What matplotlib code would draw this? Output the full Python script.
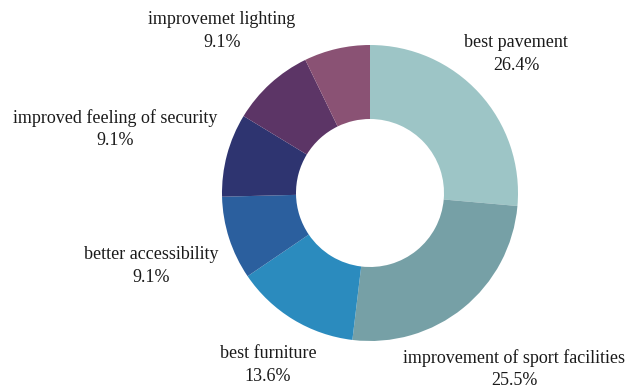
import matplotlib
matplotlib.use("Agg")
import matplotlib.pyplot as plt

# Share of responses per improvement category
categories = [
    "best pavement",
    "improvement of sport facilities",
    "best furniture",
    "better accessibility",
    "improved feeling of security",
    "improvemet lighting",
    "",
]
shares = [26.4, 25.5, 13.6, 9.1, 9.1, 9.1, 7.2]
colors = ["#9DC5C6", "#76A0A6", "#2B8BBE", "#2B5F9E",
          "#2E3470", "#5C3566", "#8A5274"]

# Label anchor points (pixel coordinates in the figure, top-left origin)
label_px = [
    (516, 54),
    (514, 369),
    (268, 365),
    (151, 266),
    (115, 129),
    (222, 31),
    None,
]

W, H = 628, 389
CX, CY, R = 370, 193, 148

fig = plt.figure(figsize=(W / 100, H / 100), dpi=100)
ax = fig.add_axes([0, 0, 1, 1])
ax.pie(shares, colors=colors, startangle=90, counterclock=False,
       radius=1.0, wedgeprops=dict(width=0.5, edgecolor="none"))
ax.set_aspect("auto")
ax.set_xlim((0 - CX) / R, (W - CX) / R)
ax.set_ylim((CY - H) / R, (CY - 0) / R)
ax.axis("off")

for name, val, pos in zip(categories, shares, label_px):
    if pos is None or not name:
        continue
    x = (pos[0] - CX) / R
    y = (CY - pos[1]) / R
    ax.text(x, y, f"{name}\n{val:.1f}%", ha="center", va="center",
            fontsize=13, family="Liberation Serif", color="#1a1a1a",
            linespacing=1.4)

fig.savefig("out.png", dpi=100, facecolor="white")
